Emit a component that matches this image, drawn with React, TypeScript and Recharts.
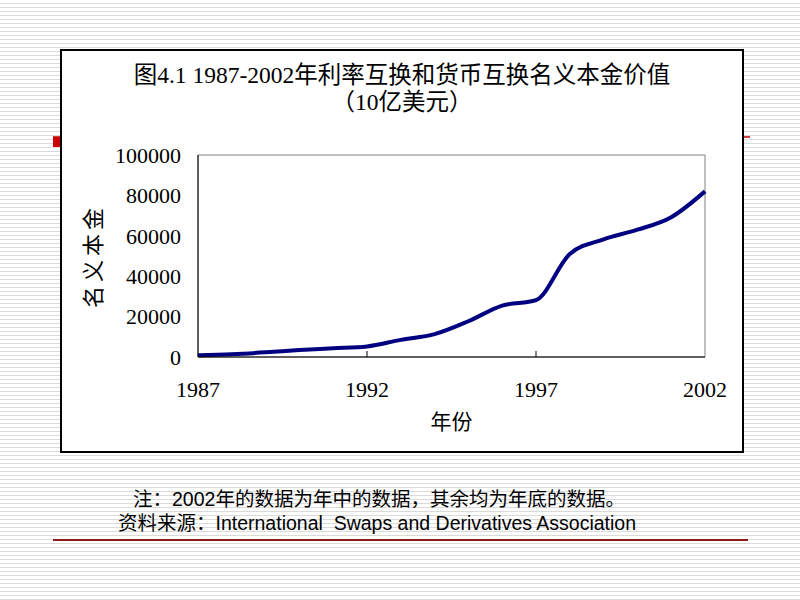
import React from "react";
import { LineChart, Line, XAxis, YAxis, ReferenceArea, Label } from "recharts";

const years = [1987, 1988, 1989, 1990, 1991, 1992, 1993, 1994, 1995, 1996, 1997, 1998, 1999, 2000, 2001, 2002];
const notional = [866, 1400, 2300, 3450, 4300, 5200, 8475, 11303, 17713, 25453, 28200, 50997, 58265, 63009, 69207, 82000];
const xTicks = [1987, 1992, 1997, 2002];
const yTicks = [0, 20000, 40000, 60000, 80000, 100000];

const data = years.map((year, i) => ({ year, value: notional[i] }));

const SERIF = '"Liberation Serif", "Noto Sans CJK SC", serif';
const SANS = '"Liberation Sans", "Noto Sans CJK SC", sans-serif';

const MARGIN = 24;

function XTick(props: any) {
  const { x, y, payload } = props;
  const axisY = y - MARGIN;
  const inner = payload.value !== 1987 && payload.value !== 2002;
  return (
    <g>
      {inner && <line x1={x} y1={axisY} x2={x} y2={axisY - 6} stroke="#000" strokeWidth={1} />}
      <text x={x} y={y} dy="0.71em" textAnchor="middle" fontSize={22} fontFamily={SERIF} fill="#000">
        {payload.value}
      </text>
    </g>
  );
}

export default function App() {
  return (
    <div
      style={{
        position: "absolute",
        left: 0,
        top: 0,
        width: 800,
        height: 600,
        background:
          "repeating-linear-gradient(to bottom, #ffffff 0px, #ffffff 3px, #dadada 3px, #dadada 4px)",
        overflow: "hidden",
      }}
    >
      {/* slide decorations */}
      <div style={{ position: "absolute", left: 53, top: 136, width: 697, height: 2, background: "#d04040" }} />
      <div style={{ position: "absolute", left: 53, top: 137, width: 8, height: 10, background: "#cc0000" }} />
      <div style={{ position: "absolute", left: 53, top: 539, width: 695, height: 2, background: "#8b1a1a" }} />

      <div
        style={{
          position: "absolute",
          left: 60,
          top: 49,
          width: 680,
          height: 400,
          border: "2px solid #000",
          background: "#fff",
        }}
      />

      <div
        style={{
          position: "absolute",
          left: 60,
          top: 62,
          width: 684,
          textAlign: "center",
          fontFamily: SERIF,
          fontSize: 23.5,
          lineHeight: "27px",
          color: "#000",
        }}
      >
        <div>图4.1 1987-2002年利率互换和货币互换名义本金价值</div>
        <div>（10亿美元）</div>
      </div>

      <div style={{ position: "absolute", left: 0, top: 0 }}>
        <LineChart
          width={800}
          height={600}
          data={data}
          margin={{ top: 155, right: 95, bottom: 148, left: 60 }}
        >
          <ReferenceArea x1={1987} x2={2002} y1={0} y2={100000} fill="none" stroke="#808080" strokeWidth={1} />
          <XAxis
            dataKey="year"
            type="number"
            domain={[1987, 2002]}
            ticks={xTicks}
            height={95}
            tickSize={0}
            tickMargin={MARGIN}
            tick={<XTick />}
            axisLine={{ stroke: "#000", strokeWidth: 1 }}
            tickLine={false}
          >
            <Label value="年份" position="center" dy={17} fontSize={21} fontFamily={SERIF} fill="#000" />
          </XAxis>
          <YAxis
            type="number"
            domain={[0, 100000]}
            ticks={yTicks}
            width={138}
            tickSize={0}
            tickMargin={17}
            tick={{ fontSize: 22, fontFamily: SERIF, fill: "#000" }}
            axisLine={{ stroke: "#000", strokeWidth: 1 }}
            tickLine={false}
          >
            <Label
              value="名义本金"
              angle={-90}
              position="center"
              dx={-36}
              fontSize={22}
              fontFamily={SERIF}
              fill="#000"
              letterSpacing={4}
            />
          </YAxis>
          <Line
            type="monotone"
            dataKey="value"
            stroke="#000080"
            strokeWidth={4}
            dot={false}
            isAnimationActive={false}
          />
        </LineChart>
      </div>

      <div
        style={{
          position: "absolute",
          left: 133,
          top: 487,
          fontFamily: SANS,
          fontSize: 19.5,
          lineHeight: "24px",
          color: "#000",
          whiteSpace: "pre",
        }}
      >
        注：2002年的数据为年中的数据，其余均为年底的数据。
      </div>
      <div
        style={{
          position: "absolute",
          left: 118,
          top: 511,
          fontFamily: SANS,
          fontSize: 19.5,
          lineHeight: "24px",
          color: "#000",
          whiteSpace: "pre",
        }}
      >
        资料来源：International  Swaps and Derivatives Association
      </div>
    </div>
  );
}
